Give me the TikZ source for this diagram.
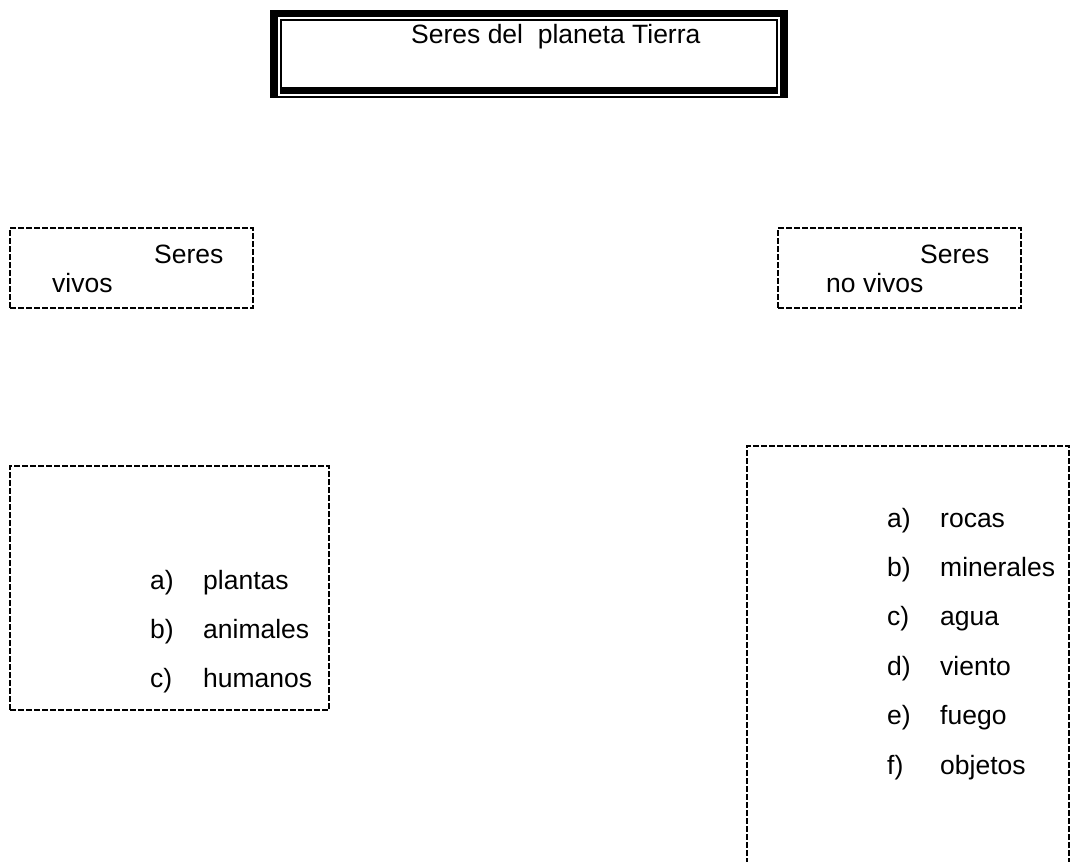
\documentclass[tikz,border=0pt]{standalone}
\usepackage{fontspec}
\setmainfont{Liberation Sans}
\begin{document}
\begin{tikzpicture}[x=1pt,y=-1pt,
  txt/.style={inner sep=0pt,anchor=base west,font=\fontsize{26.5}{30}\selectfont},
  dbox/.style={draw,line width=1.6pt,dash pattern=on 6pt off 2pt,inner sep=0pt},
  frame/.style={fill=black},
  gap/.style={fill=white}]
\clip (0,0) rectangle (1072,862);
\useasboundingbox (0,0) rectangle (1072,862);
% title frame
\coordinate (f1a) at (270,10); \coordinate (f1b) at (788,98);
\coordinate (f2a) at (278,17); \coordinate (f2b) at (780,95.5);
\coordinate (f3a) at (280,19); \coordinate (f3b) at (778,93.5);
\coordinate (f4a) at (282,21); \coordinate (f4b) at (776,87);
\fill[frame] (f1a) rectangle (f1b);
\fill[gap] (f2a) rectangle (f2b);
\fill[frame] (f3a) rectangle (f3b);
\fill[gap] (f4a) rectangle (f4b);
\node[txt] (title) at (411,43) {Seres del\ \ planeta Tierra};
% dashed boxes
\node[dbox,minimum width=243pt,minimum height=80pt] (boxvivos) at (131.5,268) {};
\node[dbox,minimum width=243pt,minimum height=80pt] (boxnovivos) at (899.5,268) {};
\node[dbox,minimum width=319pt,minimum height=244pt] (listvivos) at (169.5,588) {};
\node[dbox,minimum width=322pt,minimum height=440pt] (listnovivos) at (908,666) {};
% texts
\node[txt] (sv1) at (154,263) {Seres};
\node[txt] (sv2) at (52,292) {vivos};
\node[txt] (snv1) at (920,263) {Seres};
\node[txt] (snv2) at (826,292) {no vivos};
% left list
\node[txt] (la) at (150,589) {a)};  \node[txt] (lat) at (203,589) {plantas};
\node[txt] (lb) at (150,638) {b)};  \node[txt] (lbt) at (203,638) {animales};
\node[txt] (lc) at (150,687) {c)};  \node[txt] (lct) at (203,687) {humanos};
% right list
\node[txt] (ra) at (887,527) {a)};  \node[txt] (rat) at (940,527) {rocas};
\node[txt] (rb) at (887,576.4) {b)};  \node[txt] (rbt) at (940,576.4) {minerales};
\node[txt] (rc) at (887,625.8) {c)};  \node[txt] (rct) at (940,625.8) {agua};
\node[txt] (rd) at (887,675.2) {d)};  \node[txt] (rdt) at (940,675.2) {viento};
\node[txt] (re) at (887,724.6) {e)};  \node[txt] (ret) at (940,724.6) {fuego};
\node[txt] (rf) at (887,774) {f)};  \node[txt] (rft) at (940,774) {objetos};
\end{tikzpicture}
\end{document}
